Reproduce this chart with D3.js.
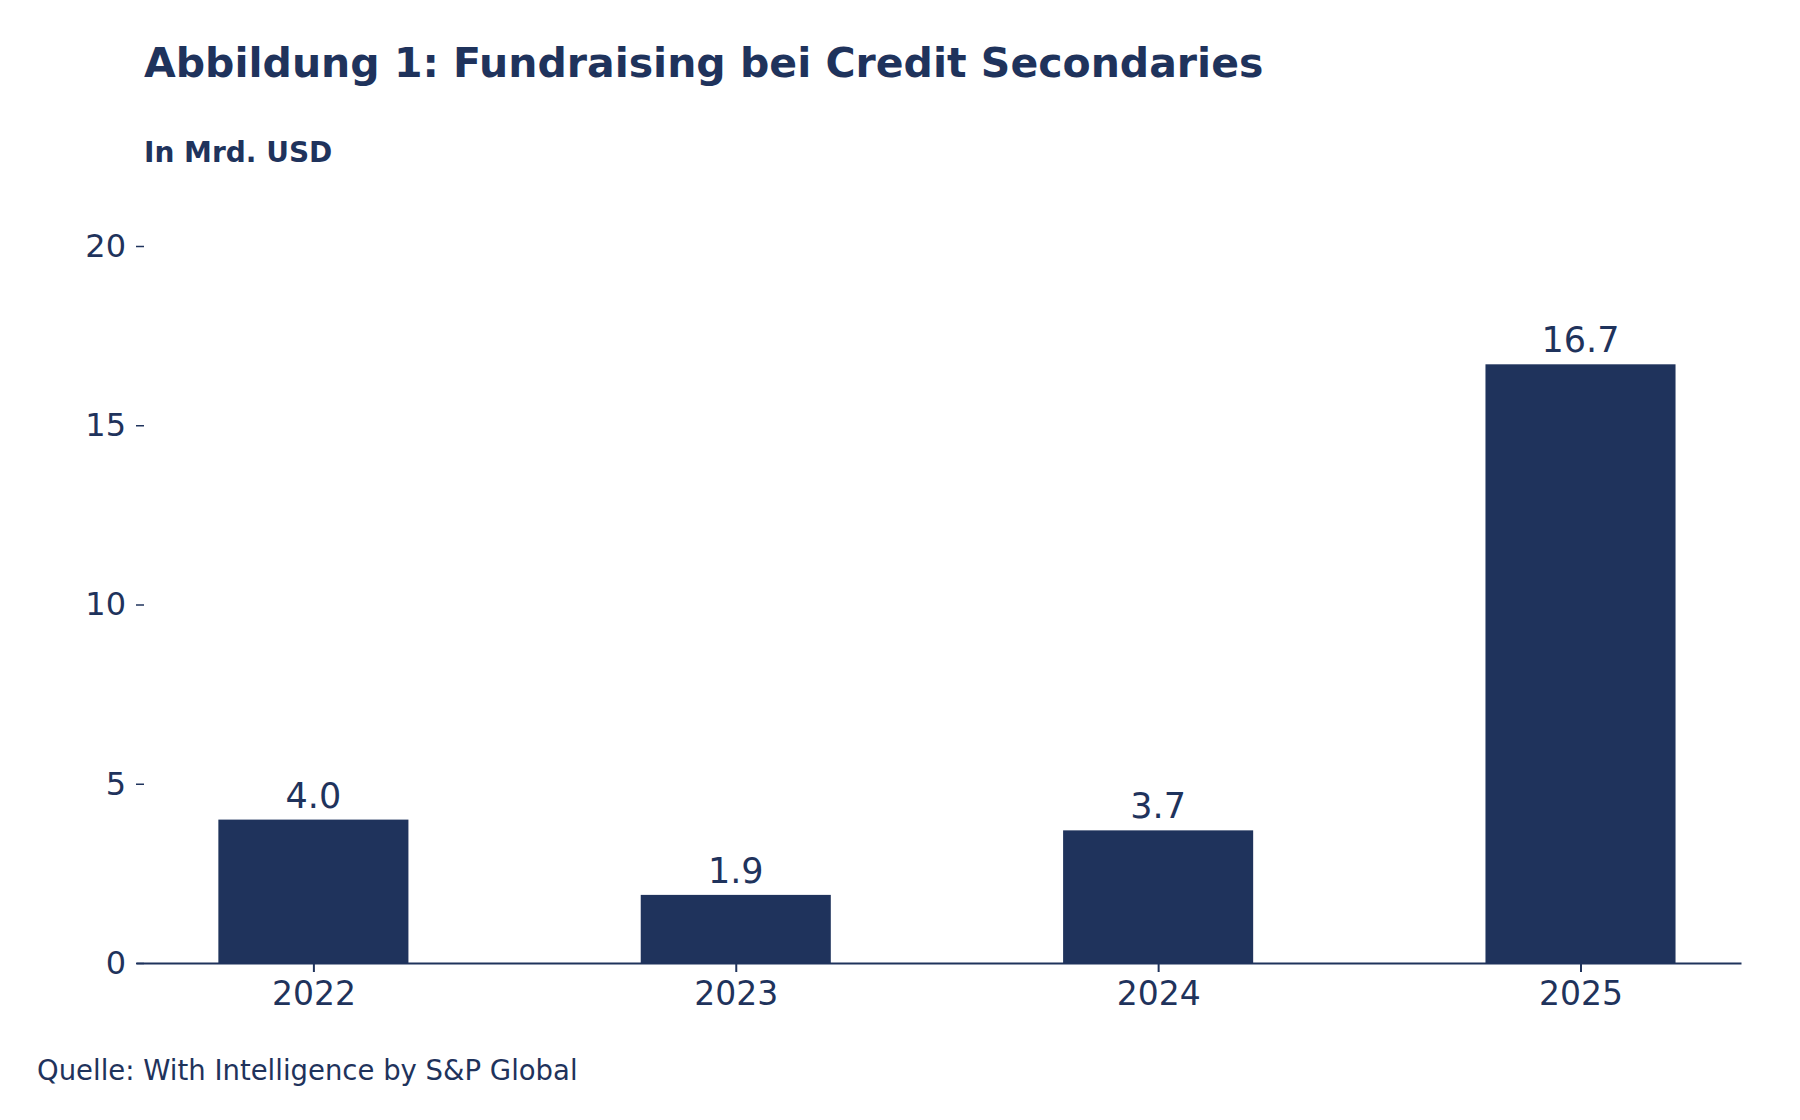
<!DOCTYPE html>
<html>
<head>
<meta charset="utf-8">
<script src="https://cdnjs.cloudflare.com/ajax/libs/d3/7.8.5/d3.min.js"></script>
<style>body{margin:0;background:#fff}</style>
</head>
<body>
<script>
var years = ["2022", "2023", "2024", "2025"];
var values = [4.0, 1.9, 3.7, 16.7];
var yTicks = [0, 5, 10, 15, 20];

var col = "#1f335c", font = "DejaVu Sans";
var svg = d3.select("body").append("svg").attr("width", 1800).attr("height", 1120)
  .style("font-family", font);

var x = d3.scaleLinear().domain([-0.42, 3.38]).range([136, 1741]);
var y = d3.scaleLinear().domain([0, 20]).range([963, 246]);
var step = x(1) - x(0), bw = step * 0.45;

svg.append("text").attr("x", 144).attr("y", 77).attr("fill", col)
  .attr("font-size", 41).attr("font-weight", "bold")
  .text("Abbildung 1: Fundraising bei Credit Secondaries");
svg.append("text").attr("x", 144).attr("y", 162).attr("fill", col)
  .attr("font-size", 28).attr("font-weight", "bold").text("In Mrd. USD");

svg.selectAll("rect.bar").data(values).enter().append("rect")
  .attr("x", function(d, i) { return x(i) - bw / 2; })
  .attr("y", function(d) { return y(d); })
  .attr("width", bw)
  .attr("height", function(d) { return y(0) - y(d); })
  .attr("fill", col);

svg.selectAll("text.val").data(values).enter().append("text")
  .attr("x", function(d, i) { return x(i); })
  .attr("y", function(d) { return y(d) - 12; })
  .attr("text-anchor", "middle").attr("fill", col).attr("font-size", 35)
  .text(function(d) { return d.toFixed(1); });

// y axis ticks
var ya = svg.append("g").attr("transform", "translate(144,0)")
  .call(d3.axisLeft(y).tickValues(yTicks).tickSize(8).tickPadding(10));
ya.select(".domain").remove();
ya.selectAll("line").attr("stroke", col).attr("stroke-width", 1.5);
ya.selectAll("text").attr("fill", col).attr("font-size", 32).attr("font-family", font);

// x axis
var xa = svg.append("g").attr("transform", "translate(0," + y(0) + ")")
  .call(d3.axisBottom(x).tickValues([0, 1, 2, 3]).tickFormat(function(d) { return years[d]; })
    .tickSize(9).tickSizeOuter(0).tickPadding(10));
xa.select(".domain").attr("stroke", col).attr("stroke-width", 2);
xa.selectAll("line").attr("stroke", col).attr("stroke-width", 2);
xa.selectAll("text").attr("fill", col).attr("font-size", 33).attr("font-family", font);

svg.append("text").attr("x", 37).attr("y", 1080).attr("fill", col)
  .attr("font-size", 27.5).text("Quelle: With Intelligence by S&P Global");
</script>
</body>
</html>
